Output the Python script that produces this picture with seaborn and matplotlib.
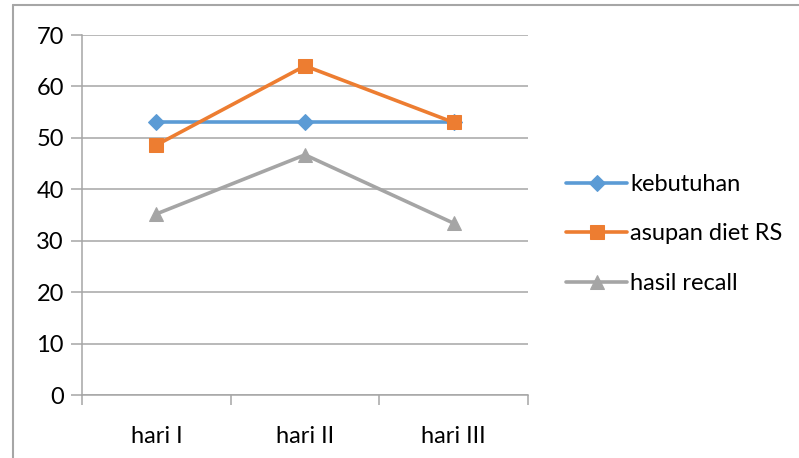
import matplotlib
matplotlib.use("Agg")
import matplotlib.pyplot as plt
from matplotlib.lines import Line2D
import seaborn as sns
import pandas as pd

days = ["hari I", "hari II", "hari III"]
kebutuhan = [53, 53, 53]
asupan_diet_rs = [48.6, 64, 53]
hasil_recall = [35.2, 46.7, 33.4]

series_names = ["kebutuhan", "asupan diet RS", "hasil recall"]
series_values = [kebutuhan, asupan_diet_rs, hasil_recall]
colors = ["#5B9BD5", "#ED7D31", "#A5A5A5"]
markers = ["D", "s", "^"]
marker_sizes = [8, 10, 10]

sns.set_theme(style="white")
plt.rcParams["font.family"] = ["Lato", "DejaVu Sans"]
plt.rcParams["text.color"] = "black"
plt.rcParams["xtick.bottom"] = True
plt.rcParams["ytick.left"] = True

df = pd.DataFrame({
    "hari": days * len(series_names),
    "nilai": [v for vals in series_values for v in vals],
    "seri": [n for n in series_names for _ in days],
})

fig = plt.figure(figsize=(7.99, 4.58), dpi=100)
ax = fig.add_axes([82 / 799, 1 - 395 / 458, (528 - 82) / 799, (395 - 35) / 458])

grid_color = "#A6A6A6"
for name, col, mk, ms in zip(series_names, colors, markers, marker_sizes):
    sub = df[df["seri"] == name]
    sns.lineplot(data=sub, x="hari", y="nilai", ax=ax, color=col, lw=2.6,
                 marker=mk, markersize=ms, markeredgecolor=col,
                 markerfacecolor=col, label=name, sort=False, zorder=3)

ax.set_xlim(-0.5, 2.5)
ax.set_ylim(0, 70)
ax.set_yticks(range(0, 71, 10))
ax.yaxis.grid(True, color=grid_color, lw=1.1)
ax.xaxis.grid(False)
ax.set_xlabel("")
ax.set_ylabel("")

for side in ["top", "right"]:
    ax.spines[side].set_visible(False)
for side in ["left", "bottom"]:
    ax.spines[side].set_color(grid_color)
    ax.spines[side].set_linewidth(1.1)

ax.set_xticks([0, 1, 2])
ax.set_xticklabels(days)
ax.set_xticks([-0.5, 0.5, 1.5, 2.5], minor=True)
ax.tick_params(axis="x", which="major", length=0, pad=22, labelsize=17, labelcolor="black")
ax.tick_params(axis="x", which="minor", bottom=True, length=7, width=1.1,
               color=grid_color, direction="out")
ax.tick_params(axis="y", which="major", left=True, length=8, width=1.1, color=grid_color,
               direction="out", pad=5, labelsize=17, labelcolor="black")

leg = ax.legend(loc="center left", bbox_to_anchor=(566 / 799, 1 - 234 / 458),
                bbox_transform=fig.transFigure, frameon=False, fontsize=17,
                handlelength=2.6, handletextpad=0.12, labelspacing=1.2,
                borderaxespad=0, borderpad=0)
for t in leg.get_texts():
    t.set_color("black")

# outer chart frame (left and top edges)
fig.add_artist(Line2D([13 / 799, 13 / 799], [0, 1 - 5 / 458], transform=fig.transFigure,
                      color="#A6A6A6", lw=1.5))
fig.add_artist(Line2D([13 / 799, 1], [1 - 5 / 458, 1 - 5 / 458], transform=fig.transFigure,
                      color="#A6A6A6", lw=1.5))

fig.savefig("out.png", dpi=100)
